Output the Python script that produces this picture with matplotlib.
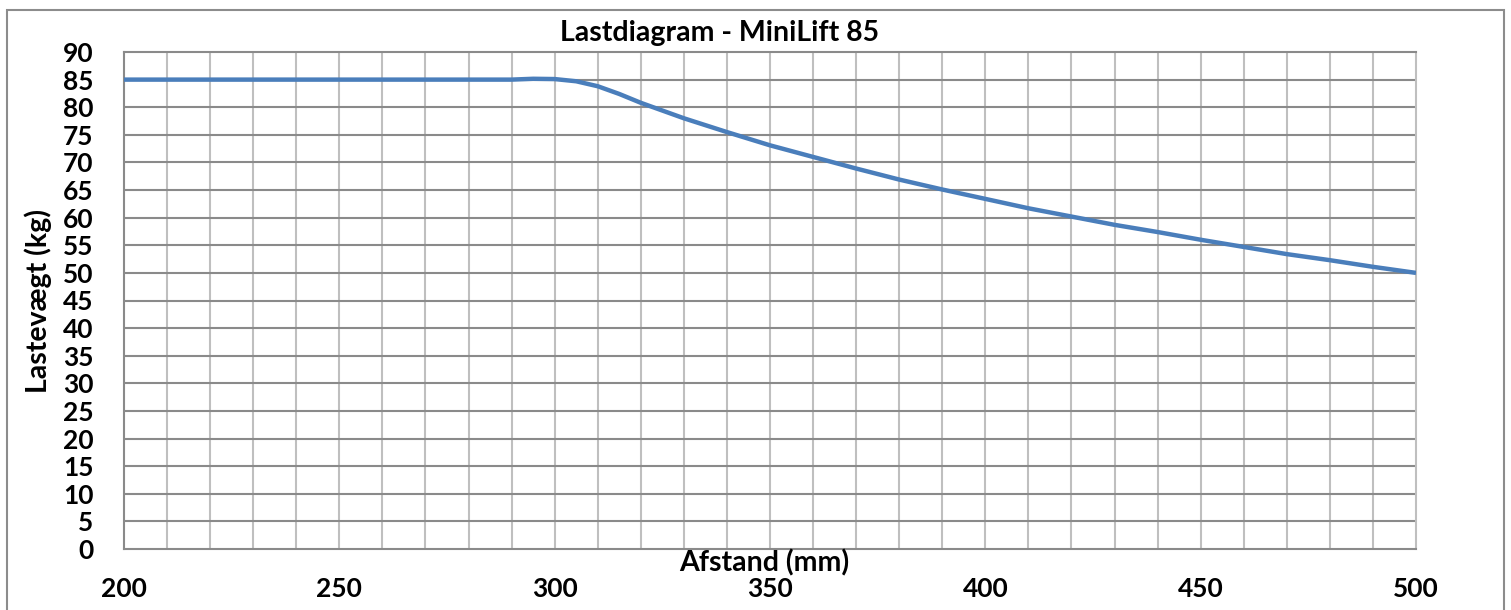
import matplotlib
matplotlib.use('Agg')
import matplotlib.pyplot as plt
from matplotlib.patches import Rectangle

# data
afstand = [200, 210, 220, 230, 240, 250, 260, 270, 280, 290, 295, 300, 305, 310, 315, 320,
           330, 340, 350, 360, 370, 380, 390, 400, 410, 420, 430, 440, 450, 460, 470,
           480, 490, 500]
lastevaegt = [85, 85, 85, 85, 85, 85, 85, 85, 85, 85, 85.15, 85.1, 84.7, 83.8, 82.4, 80.8,
              78.0, 75.5, 73.1, 71.0, 68.9, 66.9, 65.1, 63.4, 61.7, 60.2, 58.7, 57.4, 56.0,
              54.7, 53.4, 52.3, 51.1, 50.0]

x_ticks = [200, 250, 300, 350, 400, 450, 500]
y_ticks = list(range(0, 95, 5))

plt.rcParams['font.family'] = ['Lato', 'DejaVu Sans']
plt.rcParams['font.weight'] = 'bold'

fig = plt.figure(figsize=(15.11, 6.10), dpi=100)
ax = fig.add_axes([124 / 1511, 61 / 610, 1292 / 1511, 497 / 610])

# outer chart frame
fig.patches.append(Rectangle((7 / 1511, -0.05), 1497 / 1511, 1 - 10 / 610 + 0.05,
                             transform=fig.transFigure, fill=False,
                             edgecolor='#8c8c8c', linewidth=1.5))

# gridlines: horizontal darker, vertical lighter, every 10 mm
for xv in range(210, 500, 10):
    ax.axvline(xv, color='#bfbfbf', linewidth=1.5, zorder=1)
for yv in y_ticks[1:-1]:
    ax.axhline(yv, color='#8a8a8a', linewidth=1.5, zorder=1)

ax.plot(afstand, lastevaegt, color='#4a7ebb', linewidth=3.2, zorder=3,
        solid_capstyle='butt', solid_joinstyle='round')

ax.set_xlim(200, 500)
ax.set_ylim(0, 90)
ax.set_xticks(x_ticks)
ax.set_yticks(y_ticks)
ax.tick_params(length=0, labelsize=19)
ax.tick_params(axis='y', pad=22)
ax.tick_params(axis='x', pad=20)
for lab in ax.get_xticklabels() + ax.get_yticklabels():
    lab.set_fontweight('bold')

ax.spines['left'].set_color('#8a8a8a')
ax.spines['bottom'].set_color('#8a8a8a')
ax.spines['top'].set_color('#8a8a8a')
ax.spines['right'].set_color('#bfbfbf')
for s in ax.spines.values():
    s.set_linewidth(1.5)

fig.text(0.4765, 0.946, 'Lastdiagram - MiniLift 85', ha='center', va='center',
         fontsize=20.5, fontweight='bold')
fig.text(0.506, 0.077, 'Afstand (mm)', ha='center', va='center',
         fontsize=20.5, fontweight='bold')
fig.text(0.025, 0.507, 'Lastevægt (kg)', ha='center', va='center', rotation=90,
         fontsize=20.5, fontweight='bold')

plt.savefig('out.png', dpi=100)
plt.close()
